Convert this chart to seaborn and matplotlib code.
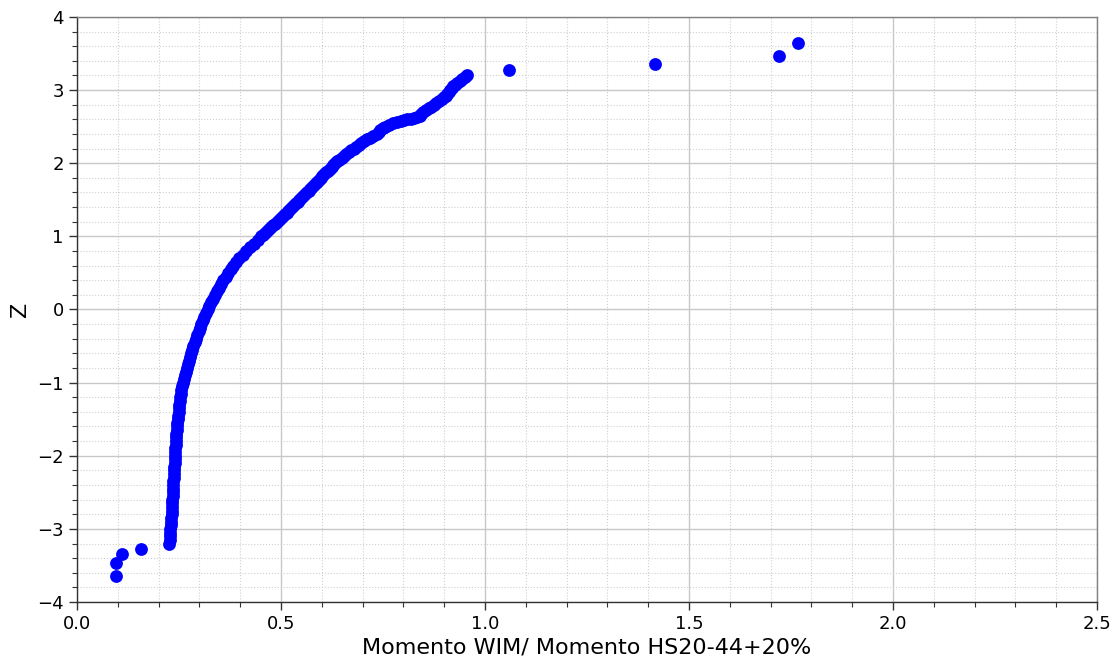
import matplotlib
matplotlib.use("Agg")
import matplotlib.pyplot as plt
import pandas as pd
import seaborn as sns
from matplotlib.ticker import MultipleLocator, FormatStrFormatter

# Normal probability plot of the moment ratio: ordered ratios against normal scores Z
z_low = [-3.64, -3.46, -3.35, -3.28]
x_low = [0.095, 0.095, 0.111, 0.156]

# lower, nearly vertical branch
z_lower = [-3.205, -3.15, -3.10, -3.05, -3.00, -2.95, -2.90, -2.85, -2.80, -2.75,
           -2.70, -2.65, -2.60, -2.55, -2.50, -2.45, -2.40, -2.35, -2.30, -2.25,
           -2.20, -2.15, -2.10, -2.05, -2.00, -1.95, -1.90, -1.85, -1.80, -1.75,
           -1.70, -1.65, -1.60, -1.55, -1.50, -1.45, -1.40, -1.35, -1.30, -1.25,
           -1.20, -1.15, -1.10, -1.05, -1.00, -0.95, -0.90, -0.85, -0.80, -0.75,
           -0.70, -0.65, -0.60, -0.55, -0.50, -0.45, -0.40, -0.35, -0.30, -0.25,
           -0.20, -0.15, -0.10, -0.05]
x_lower = [0.226, 0.227, 0.228, 0.2285, 0.229, 0.230, 0.231, 0.2315, 0.232, 0.2325,
           0.233, 0.2335, 0.234, 0.2345, 0.235, 0.2353, 0.2356, 0.236, 0.237, 0.2375,
           0.238, 0.2385, 0.239, 0.2395, 0.240, 0.2405, 0.241, 0.2415, 0.242, 0.2425,
           0.243, 0.244, 0.245, 0.246, 0.247, 0.248, 0.249, 0.250, 0.251, 0.252,
           0.253, 0.2545, 0.256, 0.258, 0.260, 0.262, 0.264, 0.2665, 0.269, 0.2715,
           0.274, 0.2765, 0.279, 0.282, 0.285, 0.288, 0.291, 0.2945, 0.298, 0.3015,
           0.305, 0.3085, 0.312, 0.316]

# bend between Z = 0 and Z = 1
z_mid = [0.00, 0.05, 0.10, 0.15, 0.20, 0.25, 0.30, 0.35, 0.40, 0.45,
         0.50, 0.55, 0.60, 0.65, 0.70, 0.75, 0.80, 0.85, 0.90, 0.95]
x_mid = [0.320, 0.324, 0.328, 0.333, 0.338, 0.343, 0.348, 0.3535, 0.359, 0.365,
         0.371, 0.377, 0.383, 0.390, 0.398, 0.406, 0.414, 0.4235, 0.433, 0.4425]

# upper branch
z_upper = [1.000, 1.025, 1.050, 1.075, 1.100, 1.125, 1.150, 1.175, 1.200, 1.225,
           1.250, 1.275, 1.300, 1.325, 1.350, 1.375, 1.400, 1.425, 1.450, 1.475,
           1.500, 1.525, 1.550, 1.575, 1.600, 1.625, 1.650, 1.675, 1.700, 1.725,
           1.750, 1.775, 1.800, 1.825, 1.850, 1.875, 1.900, 1.925, 1.950, 1.975,
           2.000, 2.025, 2.050, 2.075, 2.100, 2.125, 2.150, 2.175, 2.200, 2.225,
           2.250, 2.275, 2.300, 2.325, 2.350, 2.375, 2.400, 2.425, 2.450, 2.475,
           2.500, 2.525, 2.550, 2.565, 2.580, 2.590, 2.600, 2.610, 2.620, 2.635,
           2.650, 2.675, 2.700, 2.725, 2.750, 2.775, 2.800, 2.825, 2.850, 2.875,
           2.900, 2.925, 2.950, 2.975, 3.000, 3.025, 3.050, 3.075, 3.100, 3.125,
           3.150, 3.175, 3.205]
x_upper = [0.452, 0.457, 0.4615, 0.4665, 0.471, 0.476, 0.4805, 0.4855, 0.490, 0.4945,
           0.4995, 0.504, 0.509, 0.5135, 0.518, 0.5225, 0.527, 0.5315, 0.536, 0.5405,
           0.545, 0.5495, 0.554, 0.5585, 0.563, 0.5675, 0.572, 0.5765, 0.581, 0.585,
           0.589, 0.593, 0.597, 0.6015, 0.606, 0.6105, 0.615, 0.6195, 0.624, 0.628,
           0.632, 0.6375, 0.643, 0.6485, 0.654, 0.660, 0.666, 0.672, 0.678, 0.684,
           0.690, 0.6965, 0.703, 0.7105, 0.718, 0.7265, 0.735, 0.739, 0.743, 0.749,
           0.755, 0.765, 0.775, 0.785, 0.795, 0.8025, 0.810, 0.8175, 0.825, 0.8325,
           0.840, 0.844, 0.848, 0.855, 0.862, 0.868, 0.874, 0.881, 0.888, 0.894,
           0.900, 0.904, 0.908, 0.9115, 0.915, 0.9185, 0.922, 0.927, 0.932, 0.938,
           0.944, 0.950, 0.957]

z_high = [3.28, 3.356, 3.47, 3.65]
x_high = [1.060, 1.417, 1.721, 1.768]

df = pd.DataFrame({
    "ratio": x_low + x_lower + x_mid + x_upper + x_high,
    "Z": z_low + z_lower + z_mid + z_upper + z_high,
})

fig = plt.figure(figsize=(11.16, 6.58), dpi=100)
ax = fig.add_axes([0.069, 0.0851, 0.914, 0.8891])

sns.scatterplot(data=df, x="ratio", y="Z", color="#0000ff", s=85, linewidth=0,
                alpha=1.0, ax=ax, zorder=3)

ax.set_xlim(0.0, 2.5)
ax.set_ylim(-4, 4)
ax.xaxis.set_major_locator(MultipleLocator(0.5))
ax.xaxis.set_minor_locator(MultipleLocator(0.1))
ax.yaxis.set_major_locator(MultipleLocator(1))
ax.yaxis.set_minor_locator(MultipleLocator(0.2))
ax.xaxis.set_major_formatter(FormatStrFormatter("%.1f"))

ax.grid(which="major", color="#c8c8c8", linestyle="-", linewidth=1.0)
ax.grid(which="minor", color="#d0d0d0", linestyle=":", linewidth=0.8)
ax.set_axisbelow(True)

ax.tick_params(which="major", length=6, width=1, labelsize=13, color="#333333")
ax.tick_params(which="minor", length=3.5, width=0.8, color="#333333")
ax.tick_params(top=False, right=False, which="both")

for side in ("left", "bottom"):
    ax.spines[side].set_color("#333333")
    ax.spines[side].set_linewidth(1.0)
for side in ("top", "right"):
    ax.spines[side].set_color("#808080")
    ax.spines[side].set_linewidth(1.0)

ax.set_xlabel("Momento WIM/ Momento HS20-44+20%", fontsize=16, labelpad=3)
ax.set_ylabel("Z", fontsize=16, labelpad=5)

fig.savefig("out.png", dpi=100)
